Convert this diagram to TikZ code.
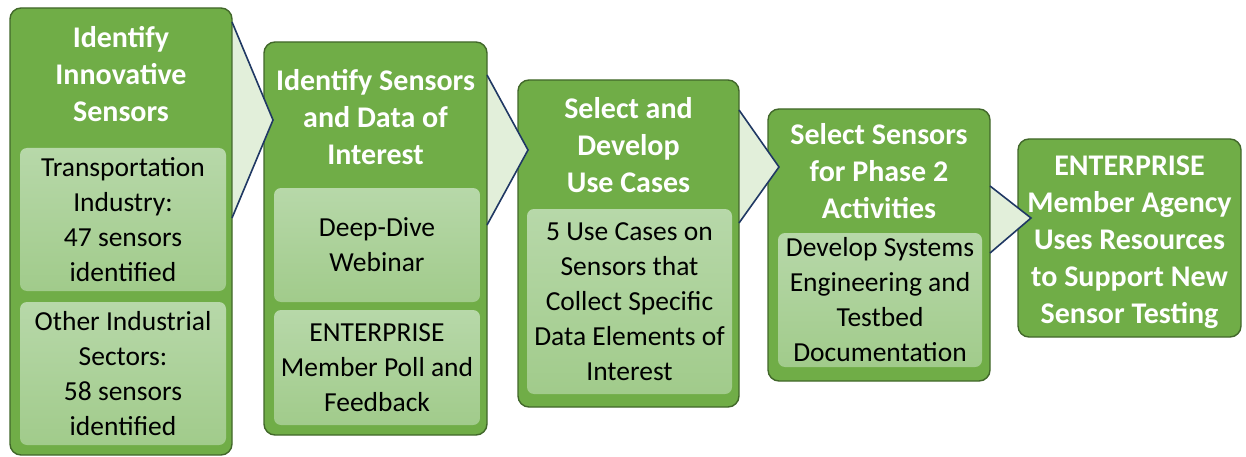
\documentclass[tikz,border=0pt]{standalone}
\usepackage{fontspec}
\setmainfont{Carlito}
\definecolor{boxgreen}{HTML}{70AD47}
\definecolor{boxline}{HTML}{41672A}
\definecolor{innertop}{HTML}{B7D8A9}
\definecolor{innerbot}{HTML}{A1CB8B}
\definecolor{arrowfill}{HTML}{E2EFDA}
\definecolor{arrowline}{HTML}{203864}
\begin{document}
\begin{tikzpicture}[x=1pt,y=-1pt,
  stagebox/.style={draw=boxline,line width=1.4pt,fill=boxgreen,rounded corners=11pt,inner sep=0pt},
  innerbox/.style={rounded corners=7pt,top color=innertop,bottom color=innerbot,draw=none,inner sep=0pt},
  titletext/.style={text=white,font=\fontsize{30}{37}\selectfont\bfseries,align=center,inner sep=0pt},
  bodytext/.style={text=black,font=\fontsize{27.5}{35}\selectfont,align=center,inner sep=0pt},
  chevfill/.style={fill=arrowfill,draw=none},
  chevline/.style={draw=arrowline,line width=1.6pt,line join=miter}
]
\useasboundingbox (0,0) rectangle (1246,457);
% stage boxes
\node[stagebox,minimum width=222pt,minimum height=447pt] (b1) at (121,231.5) {};
\node[stagebox,minimum width=223pt,minimum height=393pt] (b2) at (375.5,238.5) {};
\node[stagebox,minimum width=221pt,minimum height=327pt] (b3) at (628.5,243.5) {};
\node[stagebox,minimum width=222pt,minimum height=272pt] (b4) at (879,245) {};
\node[stagebox,minimum width=223pt,minimum height=198pt] (b5) at (1129.5,238) {};
% inner boxes
\node[innerbox,minimum width=206pt,minimum height=143pt] (i11) at (123,219.5) {};
\node[innerbox,minimum width=206pt,minimum height=143pt] (i12) at (123,373.5) {};
\node[innerbox,minimum width=206pt,minimum height=114pt] (i21) at (377,245) {};
\node[innerbox,minimum width=206pt,minimum height=115pt] (i22) at (377,367.5) {};
\node[innerbox,minimum width=205pt,minimum height=185pt] (i31) at (629.5,301.5) {};
\node[innerbox,minimum width=204pt,minimum height=134pt] (i41) at (880,300) {};
% chevrons
\coordinate (a1t) at (232,22);  \coordinate (a1p) at (273,120);  \coordinate (a1b) at (232,218);
\coordinate (a2t) at (487,75);  \coordinate (a2p) at (528,150);  \coordinate (a2b) at (487,225);
\coordinate (a3t) at (739,110); \coordinate (a3p) at (779,167);  \coordinate (a3b) at (739,223);
\coordinate (a4t) at (990,186); \coordinate (a4p) at (1031,218); \coordinate (a4b) at (990,253);
\foreach \a in {a1,a2,a3,a4}{
  \fill[chevfill] ([xshift=1pt]\a t) -- (\a p) -- ([xshift=1pt]\a b) -- cycle;
  \draw[chevline] (\a t) -- (\a p) -- (\a b);
}
% titles
\node[titletext] (t1) at (121,74.5) {Identify\\Innovative\\Sensors};
\node[titletext] (t2) at (375.5,117) {Identify Sensors\\and Data of\\Interest};
\node[titletext] (t3) at (628.5,145.5) {Select and\\Develop\\Use Cases};
\node[titletext] (t4) at (879,171) {Select Sensors\\for Phase 2\\Activities};
\node[titletext] (t5) at (1129.5,242.5) {ENTERPRISE\\Member Agency\\Uses Resources\\to Support New\\Sensor Testing};
% body texts
\node[bodytext] (x11) at (i11) {Transportation\\Industry:\\47 sensors\\identified};
\node[bodytext] (x12) at (i12) {Other Industrial\\Sectors:\\58 sensors\\identified};
\node[bodytext] (x21) at (i21) {Deep-Dive\\Webinar};
\node[bodytext] (x22) at (i22) {ENTERPRISE\\Member Poll and\\Feedback};
\node[bodytext] (x31) at (i31) {5 Use Cases on\\Sensors that\\Collect Specific\\Data Elements of\\Interest};
\node[bodytext] (x41) at (i41) {Develop Systems\\Engineering and\\Testbed\\Documentation};
\end{tikzpicture}
\end{document}
